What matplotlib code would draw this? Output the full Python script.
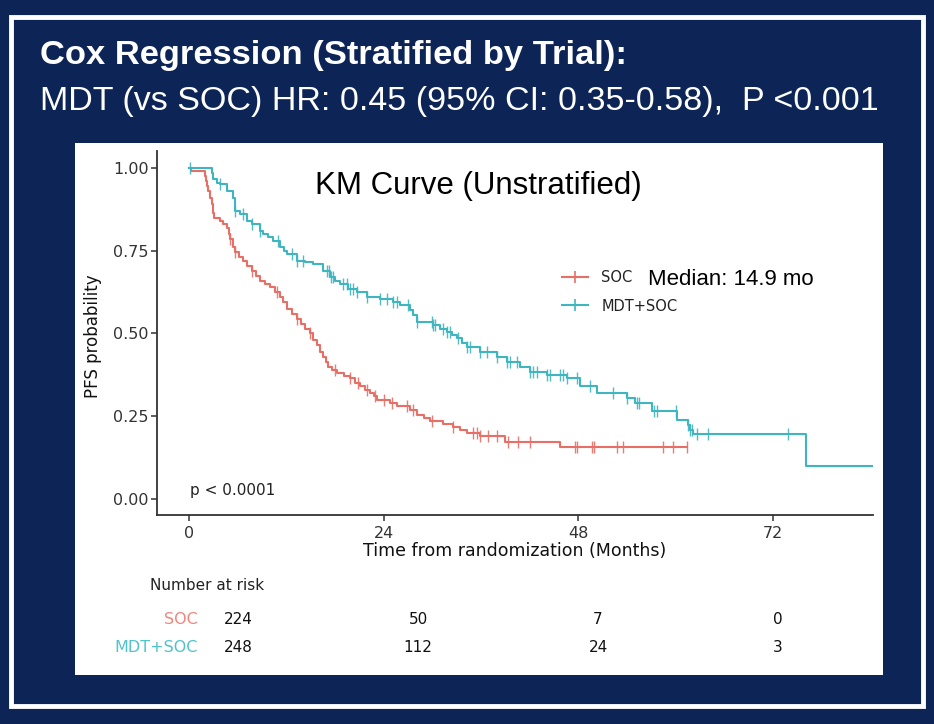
import numpy as np
import matplotlib
matplotlib.use("Agg")
import matplotlib.pyplot as plt
from matplotlib.lines import Line2D
from matplotlib.patches import Rectangle

# === Data ===
# SOC arm: event times (months) and survival after each step
soc_t = [0, 0.3, 2.0, 2.1, 2.2, 2.4, 2.6, 2.8, 2.9, 3.1, 3.8, 4.2, 4.7, 4.9, 5.1, 5.4,
         5.7, 6.2, 6.7, 7.2, 7.8, 8.3, 8.8, 9.4, 10.0, 10.6, 11.2, 11.6, 12.1, 12.7,
         13.3, 13.8, 14.3, 14.9, 15.3, 15.8, 16.2, 16.5, 16.9, 17.2, 17.7, 18.3, 19.1,
         19.9, 20.5, 21.1, 21.7, 22.3, 22.8, 23.2, 24.8, 25.7, 27.3, 28.1, 29.0, 29.7,
         31.3, 32.6, 33.5, 34.3, 35.9, 39.0, 45.8]
soc_s = [1.0, 0.99, 0.975, 0.96, 0.945, 0.93, 0.91, 0.89, 0.865, 0.85, 0.84, 0.83, 0.82,
         0.80, 0.785, 0.76, 0.745, 0.73, 0.72, 0.705, 0.69, 0.675, 0.66, 0.65, 0.64, 0.625,
         0.61, 0.595, 0.575, 0.56, 0.545, 0.53, 0.515, 0.50, 0.48, 0.465, 0.445, 0.43,
         0.415, 0.40, 0.39, 0.38, 0.372, 0.365, 0.352, 0.34, 0.33, 0.32, 0.31, 0.30, 0.29,
         0.28, 0.27, 0.255, 0.245, 0.235, 0.228, 0.218, 0.21, 0.20, 0.19, 0.172, 0.157]
soc_end = 61.4
soc_cens = [5.1, 5.7, 7.8, 10.9, 13.3, 14.9, 18.0, 19.9, 20.9, 22.0, 23.0, 24.0, 25.0,
            26.9, 27.6, 30.0, 32.6, 35.0, 35.5, 35.9, 36.9, 38.0, 39.3, 40.6, 42.1,
            47.6, 47.9, 49.7, 50.0, 52.8, 53.5, 58.5, 59.7, 61.4]

# MDT+SOC arm
mdt_t = [0, 2.8, 3.0, 3.5, 3.8, 4.7, 5.4, 5.7, 6.3, 7.2, 7.8, 8.8, 9.1, 9.7, 10.4, 11.2,
         11.7, 12.1, 13.3, 14.3, 15.3, 16.5, 17.4, 18.0, 18.6, 19.6, 20.7, 22.0, 23.6,
         25.2, 26.0, 27.3, 27.6, 28.1, 30.1, 31.0, 31.8, 32.5, 33.1, 33.7, 34.3, 35.9,
         38.0, 39.2, 40.8, 42.1, 44.2, 46.6, 48.2, 50.3, 54.0, 55.0, 57.1, 60.2, 61.6,
         61.8, 62.2, 76.1]
mdt_s = [1.0, 0.985, 0.965, 0.955, 0.95, 0.93, 0.91, 0.87, 0.86, 0.84, 0.83, 0.81, 0.80,
         0.79, 0.78, 0.76, 0.75, 0.74, 0.72, 0.715, 0.71, 0.69, 0.67, 0.66, 0.65, 0.635,
         0.625, 0.61, 0.605, 0.595, 0.585, 0.57, 0.555, 0.535, 0.525, 0.515, 0.505, 0.495,
         0.486, 0.472, 0.46, 0.445, 0.43, 0.415, 0.40, 0.385, 0.375, 0.365, 0.34, 0.32,
         0.305, 0.29, 0.266, 0.239, 0.225, 0.21, 0.196, 0.10]
mdt_end = 84.4
mdt_cens = [0.1, 3.8, 5.7, 6.7, 7.8, 8.8, 11.0, 12.7, 13.3, 14.1, 17.0, 17.3, 17.5, 17.8,
            19.0, 19.5, 19.9, 20.2, 20.7, 22.0, 23.6, 24.4, 25.2, 25.7, 27.0, 28.1, 30.0,
            30.1, 30.4, 31.3, 31.8, 32.2, 33.2, 34.3, 34.7, 35.9, 36.8, 38.0, 39.2, 39.6,
            40.5, 42.1, 42.4, 42.9, 44.2, 44.5, 45.8, 46.1, 46.6, 47.9, 49.5, 52.3, 54.0,
            55.3, 55.5, 57.4, 57.7, 60.1, 61.6, 61.8, 62.1, 62.7, 64.0, 73.9]

risk_times = [0, 24, 48, 72]
risk_soc = [224, 50, 7, 0]
risk_mdt = [248, 112, 24, 3]

groups = ["SOC", "MDT+SOC"]

# === Style ===
W, H = 934, 724
navy = "#0c2456"
red = "#E76F66"
teal = "#3FB5BF"
red_lbl = "#F0857E"
teal_lbl = "#4FC3CB"
dark = "#333333"


def fx(px):
    return px / W


def fy(py):
    return 1 - py / H


fig = plt.figure(figsize=(W / 100, H / 100), dpi=100, facecolor=navy)

# white frame and panel (behind the axes)
fig.add_artist(Rectangle((fx(11), fy(706)), fx(923) - fx(11), fy(17) - fy(706),
                         transform=fig.transFigure, fill=False, edgecolor="white",
                         lw=3.5, zorder=-2))
fig.add_artist(Rectangle((fx(75), fy(675)), fx(883) - fx(75), fy(143) - fy(675),
                         transform=fig.transFigure, facecolor="white", edgecolor="none",
                         zorder=-2))

# === Header ===
fig.text(fx(40), fy(64), "Cox Regression (Stratified by Trial):", color="white",
         fontsize=24.8, fontweight="bold", family="Liberation Sans", va="baseline")
fig.text(fx(40), fy(110), "MDT (vs SOC) HR: 0.45 (95% CI: 0.35-0.58),  P <0.001",
         color="white", fontsize=24.5, family="Liberation Sans", va="baseline")

# === KM plot ===
ax = fig.add_axes([fx(157), fy(515), fx(873) - fx(157), fy(151) - fy(515)])
ax.set_facecolor("none")


def draw_arm(t, s, end, cens, color):
    t = np.array(t + [end])
    s = np.array(s + [s[-1]])
    ax.step(t, s, where="post", color=color, lw=1.5)
    c = np.array(cens)
    cy = s[np.searchsorted(t, c, side="right") - 1]
    ax.plot(c, cy, ls="none", marker="|", ms=8, mew=1.0, color=color, alpha=0.9)


draw_arm(soc_t, soc_s, soc_end, soc_cens, red)
draw_arm(mdt_t, mdt_s, mdt_end, mdt_cens, teal)

ax.set_xlim(-3.95, 84.4)
ax.set_ylim(-0.048, 1.051)
ax.set_xticks(risk_times)
ax.set_yticks([0, 0.25, 0.5, 0.75, 1.0])
ax.set_yticklabels(["0.00", "0.25", "0.50", "0.75", "1.00"])
for side in ["top", "right"]:
    ax.spines[side].set_visible(False)
for side in ["left", "bottom"]:
    ax.spines[side].set_color(dark)
    ax.spines[side].set_linewidth(1.3)
ax.tick_params(axis="both", colors=dark, labelsize=11.5, length=4, width=1.1)
ax.tick_params(axis="y", pad=2)
ax.tick_params(axis="x", pad=4)

ax.set_xlabel("Time from randomization (Months)", fontsize=12.5, color="#111111")
ax.xaxis.set_label_coords(0.5, (515 - 551) / 364)
ax.xaxis.label.set_va("center")
ax.set_ylabel("PFS probability", fontsize=12, color="#111111")
ax.yaxis.set_label_coords((93 - 157) / 716, 0.49)
ax.yaxis.label.set_va("center")

ax.text(0.1, 0.025, "p < 0.0001", fontsize=11, color="#222222", va="center")

handles = [Line2D([], [], color=c, lw=1.5, marker="|", ms=9, mew=1.2) for c in (red, teal)]
ax.legend(handles, groups, loc="center left", bbox_to_anchor=(fx(549), fy(292)),
          bbox_transform=fig.transFigure, frameon=False, fontsize=10.5,
          handlelength=1.8, handletextpad=0.9, labelspacing=0.9,
          labelcolor="#222222")

fig.text(fx(315), fy(194), "KM Curve (Unstratified)", fontsize=22.5,
         family="Liberation Sans", color="black", va="baseline")
fig.text(fx(648), fy(285), "Median: 14.9 mo", fontsize=16,
         family="Liberation Sans", color="black", va="baseline")

# === Number at risk table ===
rax = fig.add_axes([fx(208), fy(665), fx(868) - fx(208), fy(570) - fy(665)])
rax.set_xlim(-4, 84)
rax.set_ylim(0, 1)
rax.axis("off")
row_y = [fy(620), fy(647)]
for lbl, col, yy, vals in zip(groups, (red_lbl, teal_lbl), row_y, (risk_soc, risk_mdt)):
    fig.text(fx(198), yy, lbl, color=col, fontsize=11.5, ha="right", va="center")
    for tt, v in zip(risk_times, vals):
        rax.text(tt, (yy - fy(665)) / (fy(570) - fy(665)), str(v), fontsize=11,
                 color="#111111", ha="center", va="center")
fig.text(fx(150), fy(585), "Number at risk", fontsize=11, color="#222222", va="center")

fig.savefig("out.png", dpi=100, facecolor=navy)
